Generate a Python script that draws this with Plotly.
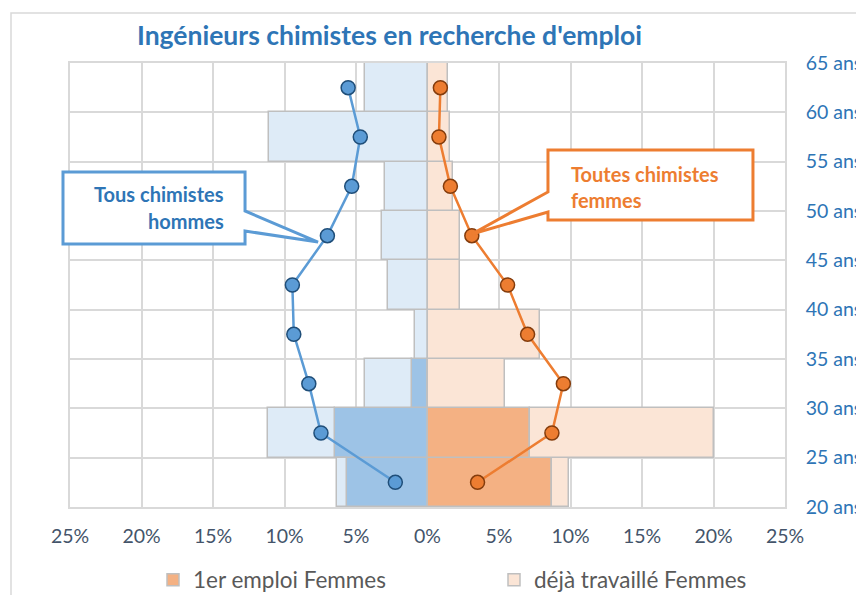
import plotly.graph_objects as go

# ---------------- data ----------------
age_mid = [22.5, 27.5, 32.5, 37.5, 42.5, 47.5, 52.5, 57.5, 62.5]
age_ticks = [20, 25, 30, 35, 40, 45, 50, 55, 60, 65]
age_labels = [f"{a} ans" for a in age_ticks]

pct_ticks = [-25, -20, -15, -10, -5, 0, 5, 10, 15, 20, 25]
pct_labels = ["25%", "20%", "15%", "10%", "5%", "0%", "5%", "10%", "15%", "20%", "25%"]

premier_hommes = [5.6, 6.45, 1.07, 0, 0, 0, 0, 0, 0]
deja_hommes = [0.7, 4.7, 3.3, 0.85, 2.75, 3.15, 2.95, 11.1, 4.4]
premier_femmes = [8.7, 7.2, 0, 0, 0, 0, 0, 0, 0]
deja_femmes = [1.2, 12.8, 5.4, 7.9, 2.25, 2.25, 1.8, 1.6, 1.4]
tous_hommes = [2.25, 7.45, 8.3, 9.35, 9.45, 7.0, 5.3, 4.7, 5.55]
toutes_femmes = [3.5, 8.7, 9.5, 7.0, 5.6, 3.1, 1.6, 0.8, 0.9]

# ---------------- layout geometry (pixels, page coordinates) ----------------
OFF = 8                      # default page body margin
W, H = 864 - OFF, 595 - OFF  # figure size
L, R, T, B = 70, 785, 63, 507  # plot area in page pixels


def px(x):
    return (x - L) / (R - L)


def py(y):
    return (B - y) / (B - T)


FONT = "Lato"
OUTLINE = "#BFBFBF"

fig = go.Figure()

fig.add_trace(go.Bar(y=age_mid, x=[-v for v in premier_hommes], orientation="h",
                     name="1er emploi Hommes", marker=dict(color="#9DC3E6", line=dict(color=OUTLINE, width=1.5)),
                     showlegend=False))
fig.add_trace(go.Bar(y=age_mid, x=premier_femmes, orientation="h", legend="legend",
                     name="1er emploi Femmes", marker=dict(color="#F4B183", line=dict(color=OUTLINE, width=1.5))))
fig.add_trace(go.Bar(y=age_mid, x=[-v for v in deja_hommes], orientation="h",
                     name="déjà travaillé Hommes", marker=dict(color="#DEEBF7", line=dict(color=OUTLINE, width=1.5)),
                     showlegend=False))
fig.add_trace(go.Bar(y=age_mid, x=deja_femmes, orientation="h", legend="legend2",
                     name="déjà travaillé Femmes", marker=dict(color="#FBE5D6", line=dict(color=OUTLINE, width=1.5))))

fig.add_trace(go.Scatter(y=age_mid, x=[-v for v in tous_hommes], mode="lines+markers",
                         name="Tous chimistes hommes", showlegend=False,
                         line=dict(color="#5B9BD5", width=2.5),
                         marker=dict(size=14, color="#5B9BD5", line=dict(color="#1F4E79", width=1.5))))
fig.add_trace(go.Scatter(y=age_mid, x=toutes_femmes, mode="lines+markers",
                         name="Toutes chimistes femmes", showlegend=False,
                         line=dict(color="#ED7D31", width=2.5),
                         marker=dict(size=14, color="#ED7D31", line=dict(color="#843C0C", width=1.5))))

grid = "#D9D9D9"
legend_common = dict(orientation="h", y=py(580), yanchor="middle", xanchor="left",
                     font=dict(family=FONT, size=22.5, color="#595959"),
                     bgcolor="rgba(0,0,0,0)", itemwidth=30)
fig.update_layout(
    width=W, height=H,
    margin=dict(l=L - OFF, r=W - (R - OFF), t=T - OFF, b=H - (B - OFF), autoexpand=False),
    paper_bgcolor="white", plot_bgcolor="white",
    barmode="relative", bargap=0,
    font=dict(family=FONT),
    xaxis=dict(range=[-25, 25], tickvals=pct_ticks, ticktext=pct_labels,
               showgrid=True, gridcolor=grid, gridwidth=1.5, zeroline=False,
               showline=True, mirror=True, linecolor=grid, linewidth=1.5,
               tickfont=dict(family=FONT, size=19.5, color="#44546A"),
               ticks="", ticklabelstandoff=11, fixedrange=True, automargin=False),
    yaxis=dict(range=[20, 65], tickvals=age_ticks, ticktext=age_labels, side="right",
               showgrid=True, gridcolor=grid, gridwidth=1.5, zeroline=False,
               showline=True, mirror=True, linecolor=grid, linewidth=1.5,
               tickfont=dict(family=FONT, size=19.5, color="#2E75B6"),
               ticks="", ticklabelstandoff=15, fixedrange=True, automargin=False),
    legend=dict(x=px(153), **legend_common),
    legend2=dict(x=px(494), **legend_common),
)

shapes = []
# chart border
shapes.append(dict(type="rect", xref="paper", yref="paper",
                   x0=px(11), y0=py(H + 40), x1=px(W + 40), y1=py(13),
                   line=dict(color=grid, width=1.5), fillcolor="rgba(0,0,0,0)", layer="below"))


def path(points):
    s = "M " + " L ".join(f"{px(x):.4f},{py(y):.4f}" for x, y in points) + " Z"
    return s


# blue callout
shapes.append(dict(type="path", xref="paper", yref="paper",
                   path=path([(63, 172), (245, 172), (245, 211), (318, 242), (245, 231), (245, 244), (63, 244)]),
                   line=dict(color="#5B9BD5", width=3), fillcolor="white"))
# orange callout
shapes.append(dict(type="path", xref="paper", yref="paper",
                   path=path([(548, 150), (753, 150), (753, 220), (548, 220), (548, 212), (472, 234), (548, 192)]),
                   line=dict(color="#ED7D31", width=3), fillcolor="white"))
fig.update_layout(shapes=shapes)

ann = []
ann.append(dict(text="<b>Ingénieurs chimistes en recherche d'emploi</b>", xref="paper", yref="paper",
                x=px(389), y=py(35), xanchor="center", yanchor="middle", showarrow=False,
                font=dict(family=FONT, size=26.5, color="#2E75B6")))
ann.append(dict(text="<b>Tous chimistes</b>", xref="paper", yref="paper", x=px(226), y=py(194),
                xanchor="right", yanchor="middle", showarrow=False,
                font=dict(family=FONT, size=20, color="#2E75B6")))
ann.append(dict(text="<b>hommes</b>", xref="paper", yref="paper", x=px(226), y=py(221),
                xanchor="right", yanchor="middle", showarrow=False,
                font=dict(family=FONT, size=20, color="#2E75B6")))
ann.append(dict(text="<b>Toutes chimistes</b>", xref="paper", yref="paper", x=px(569), y=py(174),
                xanchor="left", yanchor="middle", showarrow=False,
                font=dict(family=FONT, size=20, color="#ED7D31")))
ann.append(dict(text="<b>femmes</b>", xref="paper", yref="paper", x=px(569), y=py(200),
                xanchor="left", yanchor="middle", showarrow=False,
                font=dict(family=FONT, size=20, color="#ED7D31")))
fig.update_layout(annotations=ann)

fig.write_html("out.html")
